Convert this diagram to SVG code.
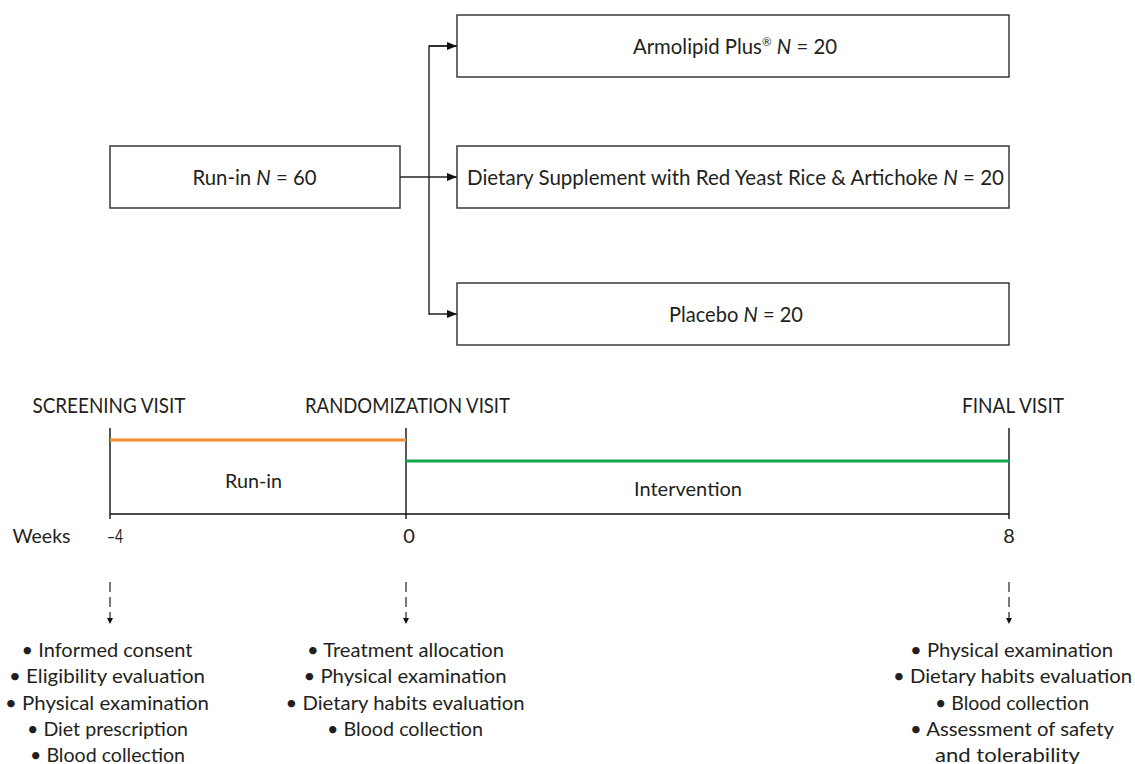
<svg xmlns="http://www.w3.org/2000/svg" width="1135" height="764" viewBox="0 0 1135 764">
<defs>
<style>
text{font-family:Lato,"Liberation Sans",sans-serif;font-size:20px;fill:#231f20}
.lbl{font-size:21px}
.box{fill:#fff;stroke:#3a3a3a;stroke-width:1.5}
.conn{fill:none;stroke:#222;stroke-width:1.4}
.tl{fill:none;stroke:#111;stroke-width:1.4}
.dash{fill:none;stroke:#222;stroke-width:1.2;stroke-dasharray:10,5}
.it{font-style:italic}
</style>
<marker id="ah" markerUnits="userSpaceOnUse" markerWidth="11" markerHeight="9" refX="10" refY="4" orient="auto">
<path d="M0,0 L10,4 L0,8 z" fill="#111"/>
</marker>
<marker id="ahs" markerUnits="userSpaceOnUse" markerWidth="7" markerHeight="7" refX="6" refY="3" orient="auto">
<path d="M0,0 L6,3 L0,6 z" fill="#111"/>
</marker>
</defs>
<rect width="1135" height="764" fill="#fff"/>

<g id="connectors">
<path class="conn" d="M400,177 H457" marker-end="url(#ah)"/>
<path class="conn" d="M457,46 H429 V314 H457" marker-end="url(#ah)"/>
<path class="conn" d="M429,46 H457" marker-end="url(#ah)"/>
<path class="dash" d="M110,582 V624" marker-end="url(#ahs)"/>
<path class="dash" d="M406,582 V624" marker-end="url(#ahs)"/>
<path class="dash" d="M1009,582 V624" marker-end="url(#ahs)"/>
</g>

<g id="runin">
<rect class="box" x="110" y="146" width="290" height="62"/>
<text class="lbl" x="254.5" y="184.5" text-anchor="middle" textLength="124" lengthAdjust="spacingAndGlyphs">Run-in <tspan class="it">N</tspan> = 60</text>
</g>
<g id="armolipid">
<rect class="box" x="457" y="15" width="552" height="62"/>
<text class="lbl" x="735" y="53.5" text-anchor="middle" textLength="204" lengthAdjust="spacingAndGlyphs">Armolipid Plus<tspan font-size="12" dy="-8">®</tspan><tspan dy="8"> </tspan><tspan class="it">N</tspan> = 20</text>
</g>
<g id="supplement">
<rect class="box" x="457" y="146" width="552" height="62"/>
<text class="lbl" x="735.5" y="185" text-anchor="middle" textLength="537" lengthAdjust="spacingAndGlyphs">Dietary Supplement with Red Yeast Rice &amp; Artichoke <tspan class="it">N</tspan> = 20</text>
</g>
<g id="placebo">
<rect class="box" x="457" y="283" width="552" height="62"/>
<text class="lbl" x="736" y="322" text-anchor="middle" textLength="134" lengthAdjust="spacingAndGlyphs">Placebo <tspan class="it">N</tspan> = 20</text>
</g>

<g id="timeline">
<text class="lbl" x="109" y="413" text-anchor="middle" textLength="153" lengthAdjust="spacingAndGlyphs">SCREENING VISIT</text>
<text class="lbl" x="407.5" y="413" text-anchor="middle" textLength="205" lengthAdjust="spacingAndGlyphs">RANDOMIZATION VISIT</text>
<text class="lbl" x="1013" y="413" text-anchor="middle" textLength="102" lengthAdjust="spacingAndGlyphs">FINAL VISIT</text>
<path class="tl" d="M110,428 V519 M406,428 V519 M1009,428 V519 M110,514 H1009"/>
<path d="M110,440 H406" stroke="#f28a2c" stroke-width="3" fill="none"/>
<path d="M406,461 H1009" stroke="#14a64c" stroke-width="3" fill="none"/>
<text x="253.5" y="488" text-anchor="middle" textLength="57" lengthAdjust="spacingAndGlyphs">Run-in</text>
<text x="688" y="496" text-anchor="middle" textLength="108" lengthAdjust="spacingAndGlyphs">Intervention</text>
<text x="12.5" y="543" textLength="58" lengthAdjust="spacingAndGlyphs">Weeks</text>
<text x="107" y="543" textLength="16" lengthAdjust="spacingAndGlyphs">–4</text>
<text x="409" y="543" text-anchor="middle">0</text>
<text x="1009" y="543" text-anchor="middle">8</text>
</g>

<g id="screening-tasks">
<text x="107" y="657" text-anchor="middle" textLength="171" lengthAdjust="spacingAndGlyphs">• Informed consent</text>
<text x="107" y="683" text-anchor="middle" textLength="196" lengthAdjust="spacingAndGlyphs">• Eligibility evaluation</text>
<text x="107" y="709.5" text-anchor="middle" textLength="204" lengthAdjust="spacingAndGlyphs">• Physical examination</text>
<text x="107.5" y="736" text-anchor="middle" textLength="161" lengthAdjust="spacingAndGlyphs">• Diet prescription</text>
<text x="107.5" y="762" text-anchor="middle" textLength="155" lengthAdjust="spacingAndGlyphs">• Blood collection</text>
</g>
<g id="randomization-tasks">
<text x="405.5" y="657" text-anchor="middle" textLength="197" lengthAdjust="spacingAndGlyphs">• Treatment allocation</text>
<text x="405" y="683" text-anchor="middle" textLength="203" lengthAdjust="spacingAndGlyphs">• Physical examination</text>
<text x="405" y="709.5" text-anchor="middle" textLength="239" lengthAdjust="spacingAndGlyphs">• Dietary habits evaluation</text>
<text x="405" y="736" text-anchor="middle" textLength="156" lengthAdjust="spacingAndGlyphs">• Blood collection</text>
</g>
<g id="final-tasks">
<text x="1011.5" y="657" text-anchor="middle" textLength="203" lengthAdjust="spacingAndGlyphs">• Physical examination</text>
<text x="1012.5" y="683" text-anchor="middle" textLength="239" lengthAdjust="spacingAndGlyphs">• Dietary habits evaluation</text>
<text x="1012" y="709.5" text-anchor="middle" textLength="154" lengthAdjust="spacingAndGlyphs">• Blood collection</text>
<text x="1012" y="736" text-anchor="middle" textLength="204" lengthAdjust="spacingAndGlyphs">• Assessment of safety</text>
<text x="1007.5" y="762" text-anchor="middle" textLength="145" lengthAdjust="spacingAndGlyphs">and tolerability</text>
</g>
</svg>
